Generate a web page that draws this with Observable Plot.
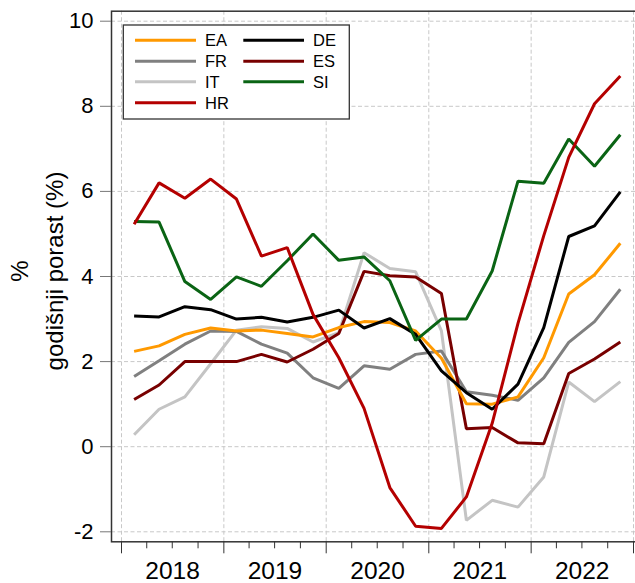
<!DOCTYPE html>
<html>
<head>
<meta charset="utf-8">
<script src="https://cdn.jsdelivr.net/npm/d3@7"></script>
<script src="https://cdn.jsdelivr.net/npm/@observablehq/plot@0.6"></script>
<style>
  body { margin: 0; background: #fff; }
  #chart { position: relative; width: 635px; height: 583px; overflow: hidden; }
</style>
</head>
<body>
<div id="chart"></div>
<script>
// ---- data ----
const quarters = ["2018Q1","2018Q2","2018Q3","2018Q4","2019Q1","2019Q2","2019Q3","2019Q4",
                  "2020Q1","2020Q2","2020Q3","2020Q4","2021Q1","2021Q2","2021Q3","2021Q4",
                  "2022Q1","2022Q2","2022Q3","2022Q4"];
const EA = [2.24, 2.37, 2.64, 2.79, 2.72, 2.74, 2.66, 2.58, 2.80, 2.94, 2.92, 2.72, 2.08, 1.01, 1.00, 1.17, 2.09, 3.59, 4.04, 4.78];
const DE = [3.07, 3.05, 3.29, 3.22, 3.00, 3.04, 2.93, 3.04, 3.21, 2.79, 3.01, 2.64, 1.78, 1.27, 0.88, 1.47, 2.80, 4.94, 5.19, 5.99];
const FR = [1.65, 2.02, 2.41, 2.72, 2.71, 2.41, 2.20, 1.62, 1.37, 1.90, 1.82, 2.17, 2.25, 1.29, 1.21, 1.09, 1.62, 2.45, 2.94, 3.70];
const ES = [1.11, 1.45, 2.00, 2.00, 2.00, 2.17, 1.99, 2.29, 2.66, 4.12, 4.02, 3.99, 3.60, 0.42, 0.45, 0.09, 0.07, 1.72, 2.06, 2.46];
const IT = [0.28, 0.88, 1.17, 1.95, 2.74, 2.82, 2.78, 2.46, 2.68, 4.56, 4.19, 4.11, 2.72, -1.73, -1.26, -1.42, -0.71, 1.52, 1.06, 1.53];
const SI = [5.29, 5.28, 3.88, 3.46, 3.99, 3.77, 4.37, 5.00, 4.38, 4.46, 3.90, 2.50, 3.00, 3.00, 4.13, 6.24, 6.19, 7.23, 6.59, 7.33];
const HR = [5.23, 6.20, 5.84, 6.29, 5.82, 4.48, 4.68, 3.11, 2.09, 0.90, -0.96, -1.87, -1.92, -1.18, 0.55, 2.90, 4.96, 6.80, 8.06, 8.71];

const seriesNames  = ["EA", "FR", "IT", "HR", "DE", "ES", "SI"];
const seriesColors = ["#ff9900", "#808080", "#c4c4c4", "#b40000", "#000000", "#780000", "#0a6414"];
const drawOrder    = ["IT", "FR", "ES", "EA", "DE", "SI", "HR"];
const yTicks = [-2, 0, 2, 4, 6, 8, 10];
const yearLabels = ["2018", "2019", "2020", "2021", "2022"];
const yAxisLines = ["%", "godišnji porast (%)"];

// ---- build table ----
const values = {EA, DE, FR, ES, IT, SI, HR};
function qDate(q) {
  const y = +q.slice(0, 4), n = +q.slice(5);
  return new Date(Date.UTC(y, (n - 1) * 3 + 1, 15));
}
const data = [];
for (const s of drawOrder) {
  values[s].forEach((v, i) => data.push({series: s, date: qDate(quarters[i]), value: v}));
}
const firstYear = +yearLabels[0], lastYear = +yearLabels[yearLabels.length - 1] + 1;
const yearStarts = d3.range(firstYear, lastYear + 1).map(y => new Date(Date.UTC(y, 0, 1)));
const quarterStarts = [];
for (let y = firstYear; y < lastYear; y++) for (let m of [3, 6, 9]) quarterStarts.push(new Date(Date.UTC(y, m, 1)));
const midYears = yearLabels.map(y => new Date(Date.UTC(+y, 6, 2)));

const gridStyle = {stroke: "#c8c8c8", strokeOpacity: 1, strokeDasharray: "4,2.5", strokeWidth: 1};

const plot = Plot.plot({
  width: 635,
  height: 583,
  marginLeft: 111,
  marginRight: 2,
  marginTop: 10.7,
  marginBottom: 41.7,
  style: {fontFamily: "Arial, 'Liberation Sans', sans-serif", fontSize: "22px", background: "white", color: "black"},
  x: {type: "utc", domain: [yearStarts[0], yearStarts[yearStarts.length - 1]], insetLeft: 10, insetRight: 0},
  y: {domain: [yTicks[0], yTicks[yTicks.length - 1]], insetTop: 10, insetBottom: 10},
  color: {domain: seriesNames, range: seriesColors},
  marks: [
    Plot.gridY(yTicks, {...gridStyle, insetRight: -10}),
    Plot.gridX(yearStarts, gridStyle),
    Plot.lineY(data, {x: "date", y: "value", stroke: "series", z: "series", strokeWidth: 3, strokeLinejoin: "miter", strokeLinecap: "butt"}),
    Plot.frame({stroke: "#333", strokeWidth: 1.5, insetRight: -10}),
    Plot.axisY(yTicks, {tickSize: 11, tickPadding: 7, stroke: "#777", fontSize: 22, tickFormat: d => String(d), label: null}),
    Plot.axisX(quarterStarts, {tickSize: 7, tickFormat: () => "", stroke: "#333", label: null}),
    Plot.axisX(yearStarts, {tickSize: 12, tickFormat: () => "", stroke: "#333", label: null}),
    Plot.axisX(midYears, {tickSize: 0, tickPadding: 19.5, tickFormat: d3.utcFormat("%Y"), fontSize: 24.5, label: null})
  ]
});

document.getElementById("chart").appendChild(plot);

// ---- y axis title (two lines) ----
const svg = d3.select(plot);
const titleG = svg.append("g").attr("font-family", "Arial, 'Liberation Sans', sans-serif").attr("fill", "black");
const titlePos = [{x: 28, size: 24}, {x: 63, size: 24}];
yAxisLines.forEach((t, i) => {
  titleG.append("text")
    .attr("transform", `translate(${titlePos[i].x},271) rotate(-90)`)
    .attr("text-anchor", "middle")
    .attr("font-size", titlePos[i].size)
    .text(t);
});

// ---- legend ----
const lg = svg.append("g").attr("font-family", "Arial, 'Liberation Sans', sans-serif").attr("text-anchor", "start");
lg.append("rect").attr("x", 123.3).attr("y", 25).attr("width", 226).attr("height", 94)
  .attr("fill", "white").attr("stroke", "#333").attr("stroke-width", 1.3);
const colX = [{x1: 135, x2: 196, tx: 205}, {x1: 243.3, x2: 304, tx: 313}];
const rowY = [40.3, 61.3, 81.8, 102.7];
const legendLayout = [["EA", "FR", "IT", "HR"], ["DE", "ES", "SI"]];
legendLayout.forEach((col, ci) => {
  col.forEach((name, ri) => {
    const c = seriesColors[seriesNames.indexOf(name)];
    lg.append("line").attr("x1", colX[ci].x1).attr("x2", colX[ci].x2)
      .attr("y1", rowY[ri]).attr("y2", rowY[ri]).attr("stroke", c).attr("stroke-width", 3);
    lg.append("text").attr("x", colX[ci].tx).attr("y", rowY[ri] + 6)
      .attr("text-anchor", "start")
      .attr("font-size", 16.5).attr("fill", "black").text(name);
  });
});
</script>
</body>
</html>
